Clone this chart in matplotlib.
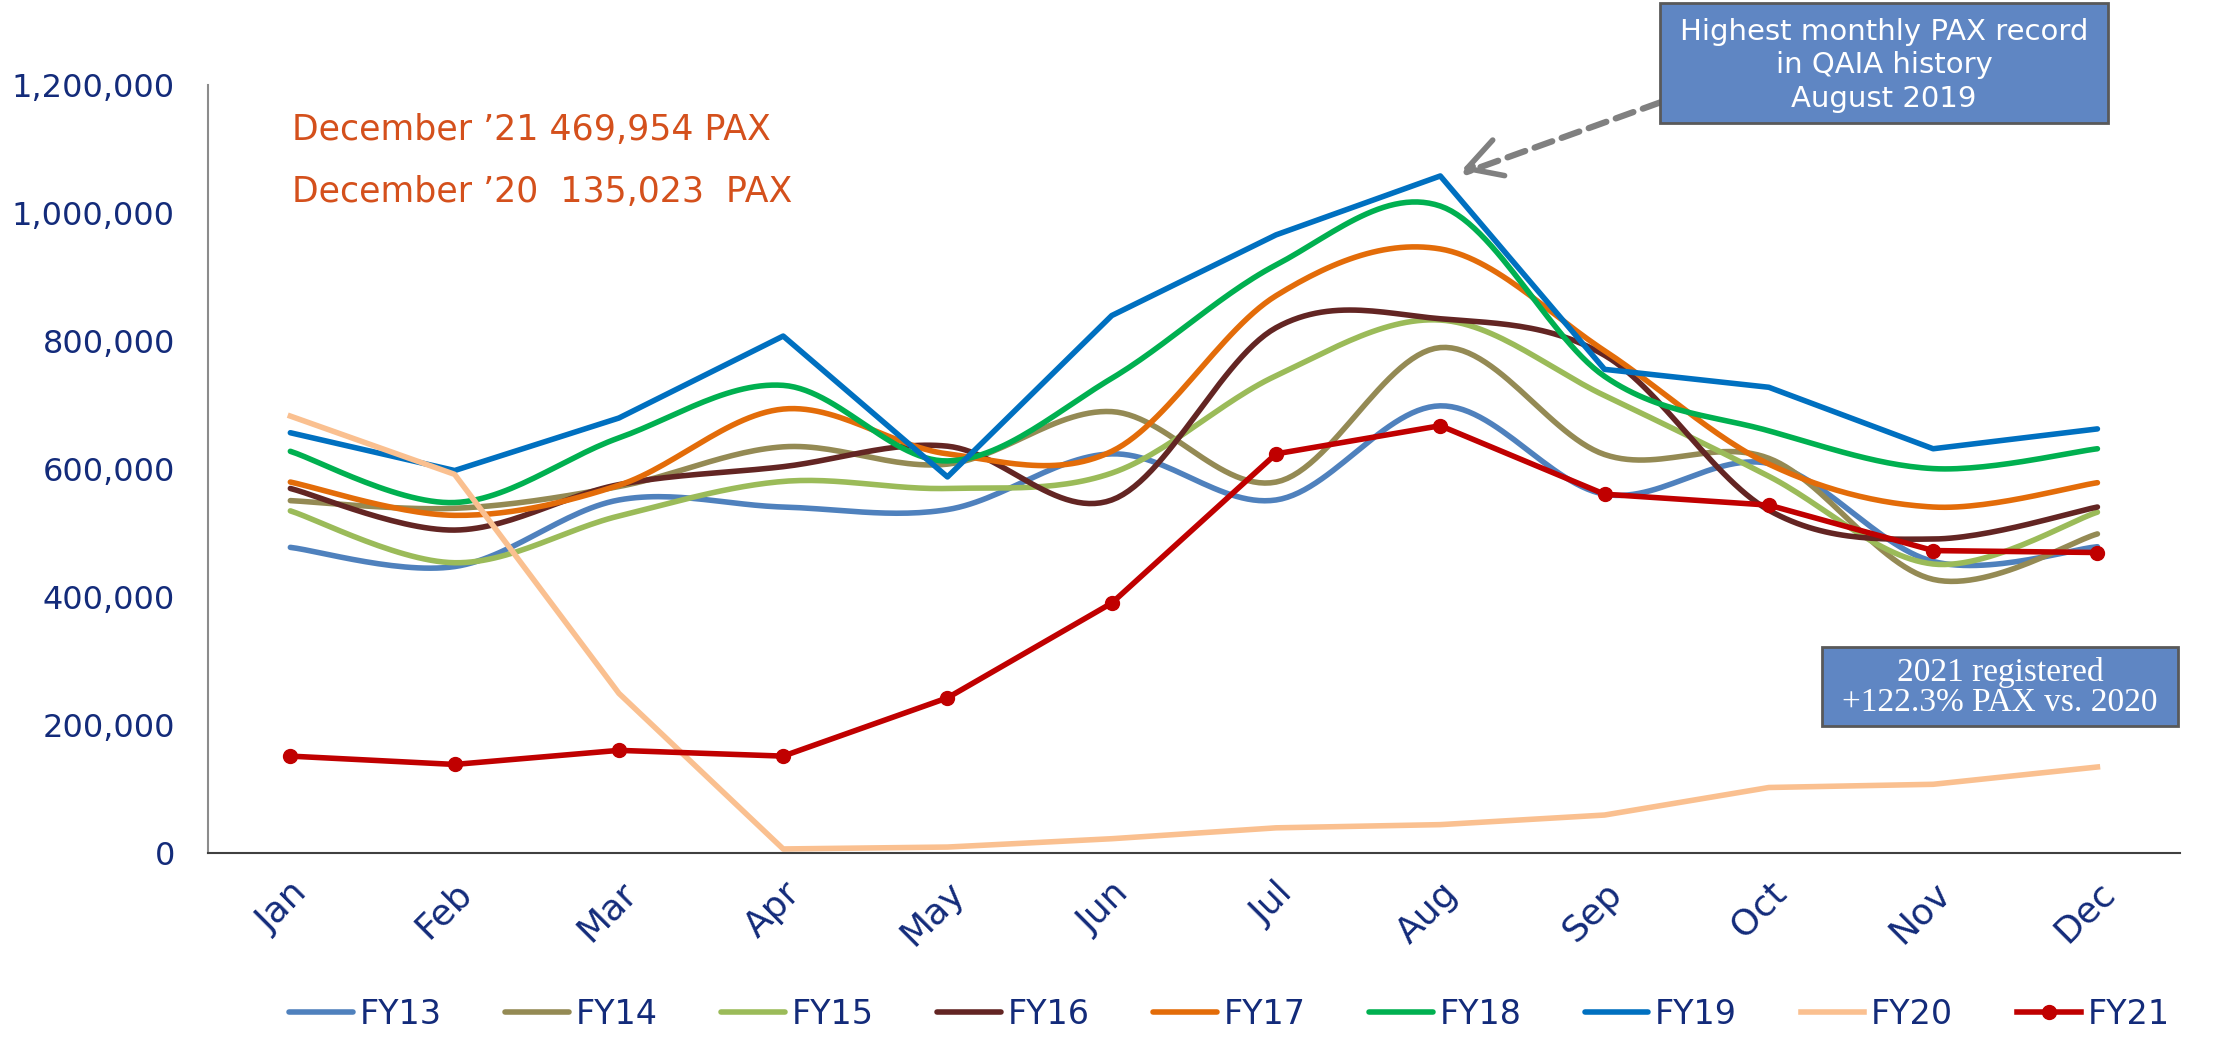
import numpy as np
import matplotlib.pyplot as plt
from matplotlib.patches import Rectangle
from matplotlib.ticker import FuncFormatter

# data (monthly PAX)
months = ['Jan', 'Feb', 'Mar', 'Apr', 'May', 'Jun', 'Jul', 'Aug', 'Sep', 'Oct', 'Nov', 'Dec']
fy13 = [478000, 448000, 552000, 541000, 537000, 624000, 552000, 699000, 561000, 609000, 456000, 479000]
fy14 = [551000, 539000, 573000, 635000, 608000, 690000, 580000, 790000, 623000, 617000, 428000, 499000]
fy15 = [535000, 454000, 527000, 581000, 570000, 594000, 746000, 833000, 715000, 589000, 452000, 533000]
fy16 = [570000, 505000, 576000, 604000, 636000, 552000, 821000, 835000, 778000, 536000, 491000, 541000]
fy17 = [580000, 528000, 575000, 694000, 624000, 628000, 871000, 944000, 785000, 608000, 541000, 579000]
fy18 = [628000, 548000, 649000, 731000, 613000, 742000, 919000, 1011000, 745000, 660000, 601000, 632000]
fy19 = [657000, 598000, 680000, 808000, 588000, 840000, 966000, 1058000, 756000, 728000, 632000, 663000]
fy20 = [683000, 592000, 250000, 7000, 10000, 23000, 40000, 45000, 60000, 103000, 108000, 135023]
fy21 = [152000, 139000, 161000, 152000, 243000, 391000, 624000, 668000, 561000, 544000, 473000, 469954]

navy = '#132B7A'
plt.rcParams['font.family'] = ['DejaVu Sans']


def smooth(xs, ys, n=30):
    # excel-style smoothed line (bezier through points)
    p = np.column_stack([xs, ys]).astype(float)
    out = []
    for i in range(len(p) - 1):
        p0 = p[max(i - 1, 0)]
        p1 = p[i]
        p2 = p[i + 1]
        p3 = p[min(i + 2, len(p) - 1)]
        c1 = p1 + (p2 - p0) / 6
        c2 = p2 - (p3 - p1) / 6
        t = np.linspace(0, 1, n)[:, None]
        seg = (1 - t) ** 3 * p1 + 3 * (1 - t) ** 2 * t * c1 + 3 * (1 - t) * t ** 2 * c2 + t ** 3 * p2
        out.append(seg if i == 0 else seg[1:])
    s = np.vstack(out)
    return s[:, 0], s[:, 1]


fig = plt.figure(figsize=(22.15, 10.37), dpi=100)
ax = fig.add_axes([0.094, 0.177, 0.890, 0.741])

x = np.arange(len(months))
lw = 4

for vals, col, lab in [(fy13, '#4F81BD', 'FY13'), (fy14, '#948A54', 'FY14'),
                       (fy15, '#9BBB59', 'FY15'), (fy16, '#632523', 'FY16'),
                       (fy17, '#E36C09', 'FY17'), (fy18, '#00B050', 'FY18')]:
    sx, sy = smooth(x, vals)
    ax.plot(sx, sy, color=col, lw=lw, label=lab, solid_capstyle='round')

ax.plot(x, fy19, color='#0070C0', lw=lw, label='FY19', solid_capstyle='round')
ax.plot(x, fy20, color='#FAC090', lw=lw, label='FY20')
ax.plot(x, fy21, color='#C00000', lw=lw, marker='o', markersize=10, label='FY21')

ax.set_xlim(-0.5, 11.5)
ax.set_ylim(0, 1200000)
ax.set_yticks(np.arange(0, 1200001, 200000))
ax.yaxis.set_major_formatter(FuncFormatter(lambda v, pos: '{:,.0f}'.format(v)))
ax.set_xticks(x)
ax.set_xticklabels(months, rotation=45, ha='right', rotation_mode='anchor')
ax.tick_params(axis='both', length=0, labelcolor=navy)
ax.tick_params(axis='y', pad=24, labelsize=23)
ax.tick_params(axis='x', pad=16, labelsize=26)

for s in ['top', 'right']:
    ax.spines[s].set_visible(False)
ax.spines['left'].set_color('#8C8C8C')
ax.spines['left'].set_linewidth(1.5)
ax.spines['bottom'].set_color('#404040')
ax.spines['bottom'].set_linewidth(1.5)

# orange notes
fig.text(0.132, 0.875, 'December \u201921 469,954 PAX', color='#D4501C', fontsize=25, va='center')
fig.text(0.132, 0.815, 'December \u201920  135,023  PAX', color='#D4501C', fontsize=25, va='center')

# record box + arrow
fig.patches.append(Rectangle((0.7494, 0.8814), 0.2023, 0.1157, transform=fig.transFigure,
                             facecolor='#5F86C3', edgecolor='#595959', lw=2, zorder=5))
fig.text(0.8506, 0.937, 'Highest monthly PAX record\nin QAIA history\nAugust 2019', color='white',
         fontsize=21, ha='center', va='center', linespacing=1.25, zorder=6)
ax.annotate('', xy=(7.16, 1064000), xytext=(8.34, 1173000), annotation_clip=False,
            arrowprops=dict(arrowstyle='-', linestyle=(0, (3, 1.6)), color='#808080', lw=4.5,
                            shrinkA=0, shrinkB=0))
ax.annotate('', xy=(7.13, 1067000), xytext=(7.2, 1073000), annotation_clip=False,
            arrowprops=dict(arrowstyle='->,head_length=0.8,head_width=0.45', color='#808080', lw=4,
                            mutation_scale=30, shrinkA=0, shrinkB=0))

# growth box
fig.patches.append(Rectangle((0.8226, 0.2999), 0.1607, 0.0762, transform=fig.transFigure,
                             facecolor='#5F86C3', edgecolor='#595959', lw=2, zorder=5))
fig.text(0.9030, 0.337, '2021 registered\n+122.3% PAX vs. 2020', color='white', family='Liberation Serif',
         fontsize=24, ha='center', va='center', linespacing=1.0, zorder=6)

leg = fig.legend(loc='center', bbox_to_anchor=(0.555, 0.022), ncol=9, frameon=False, fontsize=24,
                 handlelength=1.9, handletextpad=0.2, columnspacing=1.92)
for t in leg.get_texts():
    t.set_color(navy)

fig.savefig('out.png', dpi=100)
